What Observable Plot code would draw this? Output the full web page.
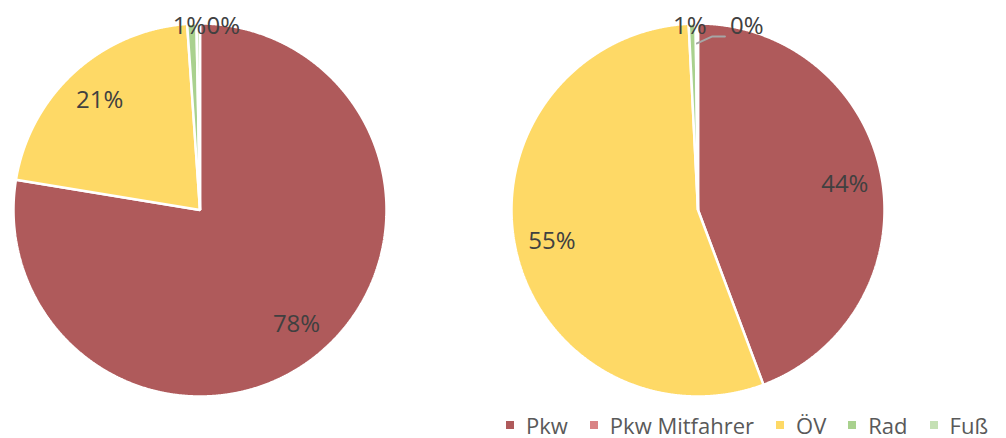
<!DOCTYPE html>
<html><head><meta charset="utf-8">
<script src="https://cdn.jsdelivr.net/npm/d3@7"></script>
<script src="https://cdn.jsdelivr.net/npm/@observablehq/plot@0.6"></script>
<style>
body{margin:0;background:#fff;font-family:"Open Sans",sans-serif;}
#wrap{position:relative;width:1006px;height:438px;}
#p1,#p2{position:absolute;top:0;}
#p1{left:0}#p2{left:498px}
#legend{position:absolute;left:506px;top:414px;width:500px;white-space:nowrap;}
.lg-swatches{margin-bottom:0 !important;flex-wrap:nowrap !important;min-height:22px !important;line-height:1;}
.lg-swatch{margin-right:22px !important;}
.lg-swatch > svg{margin-right:12px !important;}
</style></head><body>
<div id="wrap"><div id="p1"></div><div id="p2"></div><div id="legend"></div></div>
<script>
const categories = ["Pkw", "Pkw Mitfahrer", "ÖV", "Rad", "Fuß"];
const colors = ["#AF5A5B", "#D98385", "#FED966", "#A9D18E", "#C5E0B4"];
const valuesLeft = [77.6, 0, 21.3, 0.8, 0.3];
const valuesRight = [44.3, 0, 54.9, 0.6, 0.2];

function build(values) {
  const total = d3.sum(values);
  let acc = 0;
  const pts = [], labels = [];
  values.forEach((v, i) => {
    const a0 = acc / total * 2 * Math.PI;
    acc += v;
    const a1 = acc / total * 2 * Math.PI;
    if (v <= 0) return;
    const cat = categories[i];
    const n = Math.max(2, Math.ceil((a1 - a0) / 0.004));
    pts.push({cat, x: 0, y: 0});
    for (let k = 0; k <= n; k++) {
      const a = a0 + (a1 - a0) * k / n;
      pts.push({cat, x: Math.sin(a), y: Math.cos(a)});
    }
    const mid = (a0 + a1) / 2;
    labels.push({cat, v, mid, text: Math.round(v) + "%", small: v < 2});
  });
  return {pts, labels};
}

function pie(values, fussDx, leader) {
  const {pts, labels} = build(values);
  const big = labels.filter(d => !d.small);
  const rad = labels.filter(d => d.cat === "Rad");
  const fuss = labels.filter(d => d.cat === "Fuß");
  const marks = [
    Plot.line(pts, {x: "x", y: "y", z: "cat", fill: "cat", stroke: "white", strokeWidth: 2.5, strokeLinejoin: "miter", curve: "linear-closed"}),
    Plot.text(big, {x: d => 0.8 * Math.sin(d.mid), y: d => 0.8 * Math.cos(d.mid), text: "text", fontSize: 24, fill: "#404040", dy: 1}),
    Plot.text(rad, {x: d => 0.985 * Math.sin(d.mid), y: d => 0.985 * Math.cos(d.mid), text: "text", fontSize: 24, fill: "#404040", dx: -2.5}),
    Plot.text(fuss, {x: d => 0.985 * Math.sin(d.mid), y: d => 0.985 * Math.cos(d.mid), text: "text", fontSize: 24, fill: "#404040", dx: fussDx})
  ];
  if (leader) {
    const f = fuss[0];
    const sx = 0.9 * Math.sin(f.mid);
    const lp = [{x: sx, y: 0.893}, {x: sx + 0.08, y: 0.93}, {x: sx + 0.15, y: 0.93}];
    marks.push(Plot.line(lp, {x: "x", y: "y", stroke: "#A6A6A6", strokeWidth: 2}));
  }
  return Plot.plot({
    width: 400, height: 410,
    marginLeft: 13, marginRight: 14, marginTop: 23, marginBottom: 14,
    x: {domain: [-1, 1], axis: null},
    y: {domain: [-1, 1], axis: null},
    color: {domain: categories, range: colors},
    style: {fontFamily: "Open Sans", background: "white", overflow: "visible"},
    marks
  });
}

document.getElementById("p1").append(pie(valuesLeft, 25, false));
document.getElementById("p2").append(pie(valuesRight, 50, true));
document.getElementById("legend").append(Plot.legend({
  color: {type: "categorical", domain: categories, range: colors},
  legend: "swatches", swatchSize: 8, className: "lg",
  style: {fontSize: "22px", fontFamily: "Open Sans", color: "#595959"}
}));
</script>
</body></html>
